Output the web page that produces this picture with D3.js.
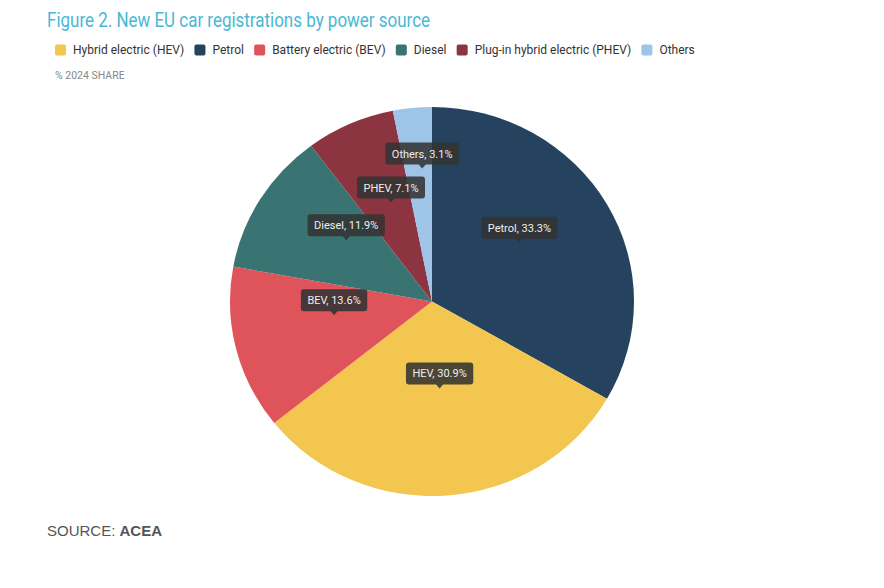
<!DOCTYPE html>
<html>
<head>
<meta charset="utf-8">
<script src="https://cdn.jsdelivr.net/npm/d3@7"></script>
<style>
  body { margin: 0; background: #fff; }
  svg { display: block; }
</style>
</head>
<body>
<div id="chart"></div>
<script>
// Data
const categories = ["Petrol", "Hybrid electric (HEV)", "Battery electric (BEV)", "Diesel", "Plug-in hybrid electric (PHEV)", "Others"];
const shortNames = ["Petrol", "HEV", "BEV", "Diesel", "PHEV", "Others"];
const shares = [33.3, 30.9, 13.6, 11.9, 7.1, 3.1];
const legendOrder = ["Hybrid electric (HEV)", "Petrol", "Battery electric (BEV)", "Diesel", "Plug-in hybrid electric (PHEV)", "Others"];
const colours = ["#25425f", "#f3c64f", "#df545a", "#397472", "#8c3440", "#9ec4e7"];

const width = 884, height = 588;
const cx = 432, cy = 301.5;
const radius = 202;
const squash = 0.963; // reference pie is slightly flattened

const svg = d3.select("#chart").append("svg")
  .attr("width", width)
  .attr("height", height);

// Title
svg.append("text")
  .attr("x", 47)
  .attr("y", 27)
  .attr("font-family", "Roboto, sans-serif")
  .attr("font-size", 20)
  .attr("fill", "#47b8d5")
  .attr("textLength", 383)
  .attr("lengthAdjust", "spacingAndGlyphs")
  .text("Figure 2. New EU car registrations by power source");

// Legend
const colour = d3.scaleOrdinal().domain(categories).range(colours);
const legend = svg.append("g").attr("font-family", "Roboto, sans-serif").attr("font-size", 12);
let lx = 55;
legendOrder.forEach(name => {
  legend.append("rect")
    .attr("x", lx)
    .attr("y", 44.5)
    .attr("width", 11)
    .attr("height", 11)
    .attr("rx", 2)
    .attr("fill", colour(name));
  const t = legend.append("text")
    .attr("x", lx + 18)
    .attr("y", 54)
    .attr("fill", "#333")
    .text(name);
  lx += 18 + t.node().getComputedTextLength() + 10.2;
});

svg.append("text")
  .attr("x", 55)
  .attr("y", 79)
  .attr("font-family", "Roboto, sans-serif")
  .attr("font-size", 10.5)
  .attr("fill", "#888")
  .text("% 2024 SHARE");

// Pie
const pie = d3.pie().sort(null).value(d => d.value);
const arcs = pie(categories.map((c, i) => ({ name: c, short: shortNames[i], value: shares[i] })));
const arc = d3.arc().innerRadius(0).outerRadius(radius);

svg.append("g")
  .attr("transform", `translate(${cx},${cy}) scale(1,${squash})`)
  .selectAll("path")
  .data(arcs)
  .enter()
  .append("path")
  .attr("d", arc)
  .attr("fill", d => colour(d.data.name));

// Data labels: dark boxes with a little pointer
const labelLayer = svg.append("g")
  .attr("font-family", "Roboto, sans-serif")
  .attr("font-size", 11);
const boxH = 22, padX = 6.5, tipH = 4, gap = 12;
const placed = [];

arcs.forEach(d => {
  const c = arc.centroid(d);
  const ax = cx + c[0];
  const tipY = cy + c[1] * squash - 10;
  const g = labelLayer.append("g");
  const txt = g.append("text")
    .attr("fill", "#eeeeee")
    .attr("text-anchor", "middle")
    .text(`${d.data.short}, ${d.data.value}%`);
  const w = txt.node().getComputedTextLength() + padX * 2;
  let bottom = tipY - tipH;
  let box = { x0: ax - w / 2, x1: ax + w / 2, y0: bottom - boxH, y1: bottom };
  placed.forEach(p => {
    const overlapX = box.x0 < p.x1 && box.x1 > p.x0;
    const overlapY = box.y0 < p.y1 + gap && box.y1 > p.y0 - gap;
    if (overlapX && overlapY) {
      bottom = p.y0 - gap;
      box = { x0: box.x0, x1: box.x1, y0: bottom - boxH, y1: bottom };
    }
  });
  placed.push(box);

  g.insert("path", "text")
    .attr("d", `M${box.x0 + 3},${box.y0} H${box.x1 - 3} Q${box.x1},${box.y0} ${box.x1},${box.y0 + 3}
      V${box.y1 - 3} Q${box.x1},${box.y1} ${box.x1 - 3},${box.y1}
      H${ax + 3.5} L${ax},${box.y1 + tipH} L${ax - 3.5},${box.y1}
      H${box.x0 + 3} Q${box.x0},${box.y1} ${box.x0},${box.y1 - 3}
      V${box.y0 + 3} Q${box.x0},${box.y0} ${box.x0 + 3},${box.y0} Z`)
    .attr("fill", "#333")
    .attr("fill-opacity", 0.88);
  txt.attr("x", ax).attr("y", box.y0 + boxH / 2 + 4);
});

// Source
const src = svg.append("text")
  .attr("x", 47)
  .attr("y", 535.5)
  .attr("font-family", "'Liberation Sans', Arial, sans-serif")
  .attr("font-size", 15)
  .attr("fill", "#555");
src.append("tspan").text("SOURCE: ");
src.append("tspan").attr("font-weight", "bold").text("ACEA");
</script>
</body>
</html>
